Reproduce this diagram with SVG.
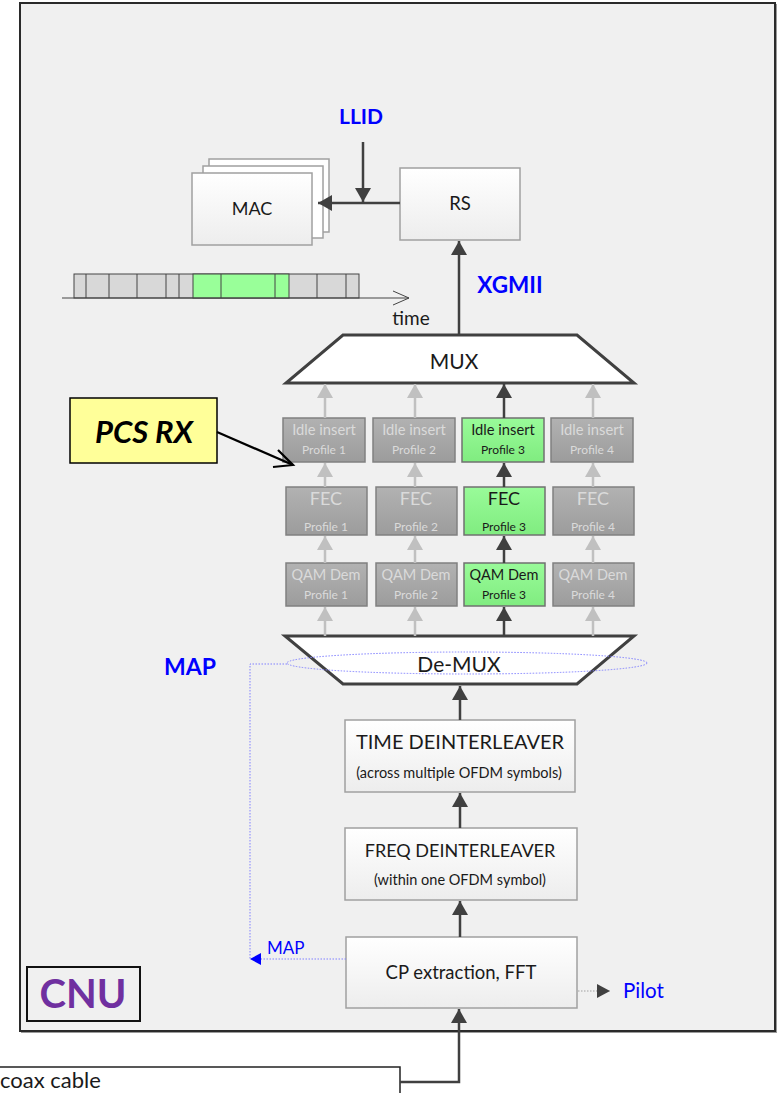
<svg xmlns="http://www.w3.org/2000/svg" width="779" height="1093" viewBox="0 0 779 1093">
<style>
text{font-family:Lato,"Open Sans","Liberation Sans",sans-serif}
.wbox{fill:url(#gw);stroke:#a0a0a0;stroke-width:1.5}
.gbox{fill:url(#gg);stroke:#808080;stroke-width:1.5}
.grn{fill:url(#gn);stroke:#707070;stroke-width:1.5}
.t{fill:#1a1a1a;text-anchor:middle}
.tg{fill:#dadada;text-anchor:middle}
.blue{fill:#0000ff;text-anchor:middle}
.dark{stroke:#404040;stroke-width:2.5;fill:none;marker-end:url(#ad)}
.gray{stroke:#c0c0c0;stroke-width:2.5;fill:none;marker-end:url(#ag)}
</style>
<defs>
<linearGradient id="gw" x1="0" y1="0" x2="0" y2="1"><stop offset="0" stop-color="#ffffff"/><stop offset="1" stop-color="#ededed"/></linearGradient>
<linearGradient id="gg" x1="0" y1="0" x2="0" y2="1"><stop offset="0" stop-color="#b2b2b2"/><stop offset="1" stop-color="#9c9c9c"/></linearGradient>
<linearGradient id="gn" x1="0" y1="0" x2="0" y2="1"><stop offset="0" stop-color="#99fb99"/><stop offset="1" stop-color="#80ec80"/></linearGradient>
<marker id="ad" markerUnits="userSpaceOnUse" markerWidth="16" markerHeight="16" refX="14" refY="8" orient="auto"><path d="M0,0 L14,8 L0,16 z" fill="#404040"/></marker>
<marker id="ag" markerUnits="userSpaceOnUse" markerWidth="16" markerHeight="16" refX="14" refY="8" orient="auto"><path d="M0,0 L14,8 L0,16 z" fill="#c0c0c0"/></marker>
<marker id="ab" markerUnits="userSpaceOnUse" markerWidth="12" markerHeight="12" refX="11" refY="6" orient="auto"><path d="M0,0 L11,6 L0,12 z" fill="#0000ff"/></marker>
<marker id="ap" markerUnits="userSpaceOnUse" markerWidth="14" markerHeight="14" refX="13" refY="7" orient="auto"><path d="M0,0 L13,7 L0,14 z" fill="#404040"/></marker>
</defs>

<g id="cnu-frame">
<rect x="21" y="4" width="756" height="1029" fill="#9a9a9a"/>
<rect x="20" y="3" width="755" height="1028" fill="#f0f0f0" stroke="#2a2a2a" stroke-width="2"/>
</g>

<g id="cnu-label">
<rect x="27" y="967" width="113" height="54" fill="none" stroke="#111" stroke-width="2"/>
<text x="83" y="1008" font-size="40" font-weight="bold" fill="#7030a0" text-anchor="middle">CNU</text>
</g>

<g id="llid"><text x="361" y="124" font-size="21" font-weight="bold" class="blue">LLID</text></g>
<g id="xgmii"><text x="510" y="293" font-size="22.5" font-weight="bold" class="blue">XGMII</text></g>
<g id="map-label"><text x="190" y="675" font-size="23" font-weight="bold" class="blue">MAP</text></g>

<g id="mac">
<rect x="209" y="159" width="120" height="73" fill="#fff" stroke="#a0a0a0" stroke-width="1.5"/>
<rect x="203" y="166" width="120" height="72" fill="#fff" stroke="#a0a0a0" stroke-width="1.5"/>
<rect x="192" y="173" width="120" height="72" class="wbox"/>
<text x="252" y="215" font-size="18" class="t">MAC</text>
</g>

<g id="rs">
<rect x="400" y="168" width="120" height="72" class="wbox"/>
<text x="460" y="210" font-size="18.5" class="t">RS</text>
</g>

<g id="timeline">
<rect x="74" y="274" width="285" height="24" fill="#d8d8d8" stroke="#444" stroke-width="1"/>
<rect x="193" y="274" width="96" height="24" fill="#99ff99" stroke="#444" stroke-width="1"/>
<path d="M86,274V298M109,274V298M137,274V298M166,274V298M179,274V298M221,274V298M275,274V298M317,274V298M346,274V298" stroke="#444" stroke-width="1" fill="none"/>
<line x1="62" y1="298" x2="409" y2="298" stroke="#444" stroke-width="1"/>
<polyline points="393,291 409,298 393,305" fill="none" stroke="#444" stroke-width="1"/>
<text x="411" y="325" font-size="19" class="t">time</text>
</g>

<g id="mux">
<polygon points="343,335 577,335 634,383 286,383" fill="#fff" stroke="#404040" stroke-width="3"/>
<text x="454" y="369" font-size="21" class="t">MUX</text>
</g>

<g id="idle1"><rect x="283" y="418" width="82" height="44" class="gbox"/><text x="324" y="435" font-size="14.7" class="tg">Idle insert</text><text x="324" y="454" font-size="12" class="tg">Profile 1</text></g>
<g id="idle2"><rect x="373" y="418" width="82" height="44" class="gbox"/><text x="414" y="435" font-size="14.7" class="tg">Idle insert</text><text x="414" y="454" font-size="12" class="tg">Profile 2</text></g>
<g id="idle3"><rect x="462" y="418" width="82" height="44" class="grn"/><text x="503" y="435" font-size="14.7" class="t">Idle insert</text><text x="503" y="454" font-size="12" class="t">Profile 3</text></g>
<g id="idle4"><rect x="551" y="418" width="82" height="44" class="gbox"/><text x="592" y="435" font-size="14.7" class="tg">Idle insert</text><text x="592" y="454" font-size="12" class="tg">Profile 4</text></g>

<g id="fec1"><rect x="286" y="487" width="81" height="48" class="gbox"/><text x="326" y="505" font-size="18" class="tg">FEC</text><text x="326" y="530.5" font-size="12" class="tg">Profile 1</text></g>
<g id="fec2"><rect x="376" y="487" width="81" height="48" class="gbox"/><text x="416" y="505" font-size="18" class="tg">FEC</text><text x="416" y="530.5" font-size="12" class="tg">Profile 2</text></g>
<g id="fec3"><rect x="464" y="487" width="81" height="48" class="grn"/><text x="504" y="505" font-size="18" class="t">FEC</text><text x="504" y="530.5" font-size="12" class="t">Profile 3</text></g>
<g id="fec4"><rect x="553" y="487" width="81" height="48" class="gbox"/><text x="593" y="505" font-size="18" class="tg">FEC</text><text x="593" y="530.5" font-size="12" class="tg">Profile 4</text></g>

<g id="qam1"><rect x="286" y="563" width="81" height="43" class="gbox"/><text x="326" y="580" font-size="14.5" class="tg">QAM Dem</text><text x="326" y="599" font-size="12" class="tg">Profile 1</text></g>
<g id="qam2"><rect x="376" y="563" width="81" height="43" class="gbox"/><text x="416" y="580" font-size="14.5" class="tg">QAM Dem</text><text x="416" y="599" font-size="12" class="tg">Profile 2</text></g>
<g id="qam3"><rect x="464" y="563" width="81" height="43" class="grn"/><text x="504" y="580" font-size="14.5" class="t">QAM Dem</text><text x="504" y="599" font-size="12" class="t">Profile 3</text></g>
<g id="qam4"><rect x="553" y="563" width="81" height="43" class="gbox"/><text x="593" y="580" font-size="14.5" class="tg">QAM Dem</text><text x="593" y="599" font-size="12" class="tg">Profile 4</text></g>

<g id="demux">
<polygon points="285,636 634,636 577,684 343,684" fill="#fff" stroke="#404040" stroke-width="3"/>
<text x="459" y="671.5" font-size="21" class="t">De-MUX</text>
<ellipse cx="467" cy="663" rx="180" ry="11" fill="none" stroke="#8080ff" stroke-width="1" stroke-dasharray="1.5,1.5"/>
</g>

<g id="time-deint">
<rect x="345" y="720" width="230" height="72" class="wbox"/>
<text x="460" y="749" font-size="20" class="t">TIME DEINTERLEAVER</text>
<text x="459" y="778" font-size="14.5" class="t">(across multiple OFDM symbols)</text>
</g>

<g id="freq-deint">
<rect x="345" y="828" width="232" height="72" class="wbox"/>
<text x="460" y="856.5" font-size="18" class="t">FREQ DEINTERLEAVER</text>
<text x="460" y="885" font-size="14.5" class="t">(within one OFDM symbol)</text>
</g>

<g id="cp-fft">
<rect x="346" y="937" width="231" height="71" class="wbox"/>
<text x="461" y="978.5" font-size="18.5" class="t">CP extraction, FFT</text>
</g>

<g id="map-small"><text x="267" y="954" font-size="17" fill="#0000ff">MAP</text></g>
<g id="pilot"><text x="623" y="998" font-size="20.5" fill="#0000ff">Pilot</text></g>

<g id="pcs-rx">
<rect x="70" y="398" width="147" height="65" fill="#ffff99" stroke="#000" stroke-width="1.5"/>
<text x="144" y="443" font-size="31" font-weight="bold" font-style="italic" fill="#000" text-anchor="middle">PCS RX</text>
</g>

<g id="coax">
<polyline points="-2,1067 400,1067 400,1095" fill="none" stroke="#222" stroke-width="1.5"/>
<text x="0" y="1088" font-size="22" fill="#1a1a1a">coax cable</text>
</g>

<g id="connectors">
<line class="dark" x1="400" y1="203" x2="318" y2="203"/>
<line class="dark" x1="363" y1="142" x2="363" y2="202"/>
<line class="dark" x1="459" y1="335" x2="459" y2="241"/>
<line class="gray" x1="325" y1="418" x2="325" y2="384"/>
<line class="gray" x1="415" y1="418" x2="415" y2="384"/>
<line class="dark" x1="504" y1="418" x2="504" y2="384"/>
<line class="gray" x1="593" y1="418" x2="593" y2="384"/>
<line class="gray" x1="325" y1="487" x2="325" y2="463"/>
<line class="gray" x1="415" y1="487" x2="415" y2="463"/>
<line class="dark" x1="504" y1="487" x2="504" y2="463"/>
<line class="gray" x1="593" y1="487" x2="593" y2="463"/>
<line class="gray" x1="325" y1="563" x2="325" y2="536"/>
<line class="gray" x1="415" y1="563" x2="415" y2="536"/>
<line class="dark" x1="504" y1="563" x2="504" y2="536"/>
<line class="gray" x1="593" y1="563" x2="593" y2="536"/>
<line class="gray" x1="325" y1="636" x2="325" y2="607"/>
<line class="gray" x1="415" y1="636" x2="415" y2="607"/>
<line class="dark" x1="504" y1="636" x2="504" y2="607"/>
<line class="gray" x1="593" y1="636" x2="593" y2="607"/>
<line class="dark" x1="460" y1="720" x2="460" y2="686"/>
<line class="dark" x1="460" y1="828" x2="460" y2="793"/>
<line class="dark" x1="460" y1="937" x2="460" y2="901"/>
<polyline class="dark" points="400,1082 459,1082 459,1009"/>
<polyline points="287,664 250,664 250,959 262,959" fill="none" stroke="#8080ff" stroke-width="1" stroke-dasharray="1.5,1.5"/>
<line x1="346" y1="959" x2="250" y2="959" stroke="#8080ff" stroke-width="1.2" stroke-dasharray="1.5,1.5" marker-end="url(#ab)"/>
<line x1="578" y1="991" x2="610" y2="991" stroke="#a0a0a0" stroke-width="1.2" stroke-dasharray="1.5,1.5" marker-end="url(#ap)"/>
<polyline points="217,432 293,465" fill="none" stroke="#000" stroke-width="2.2"/>
<polyline points="278,450 293,465 273,467" fill="none" stroke="#000" stroke-width="2.2"/>
</g>
</svg>
